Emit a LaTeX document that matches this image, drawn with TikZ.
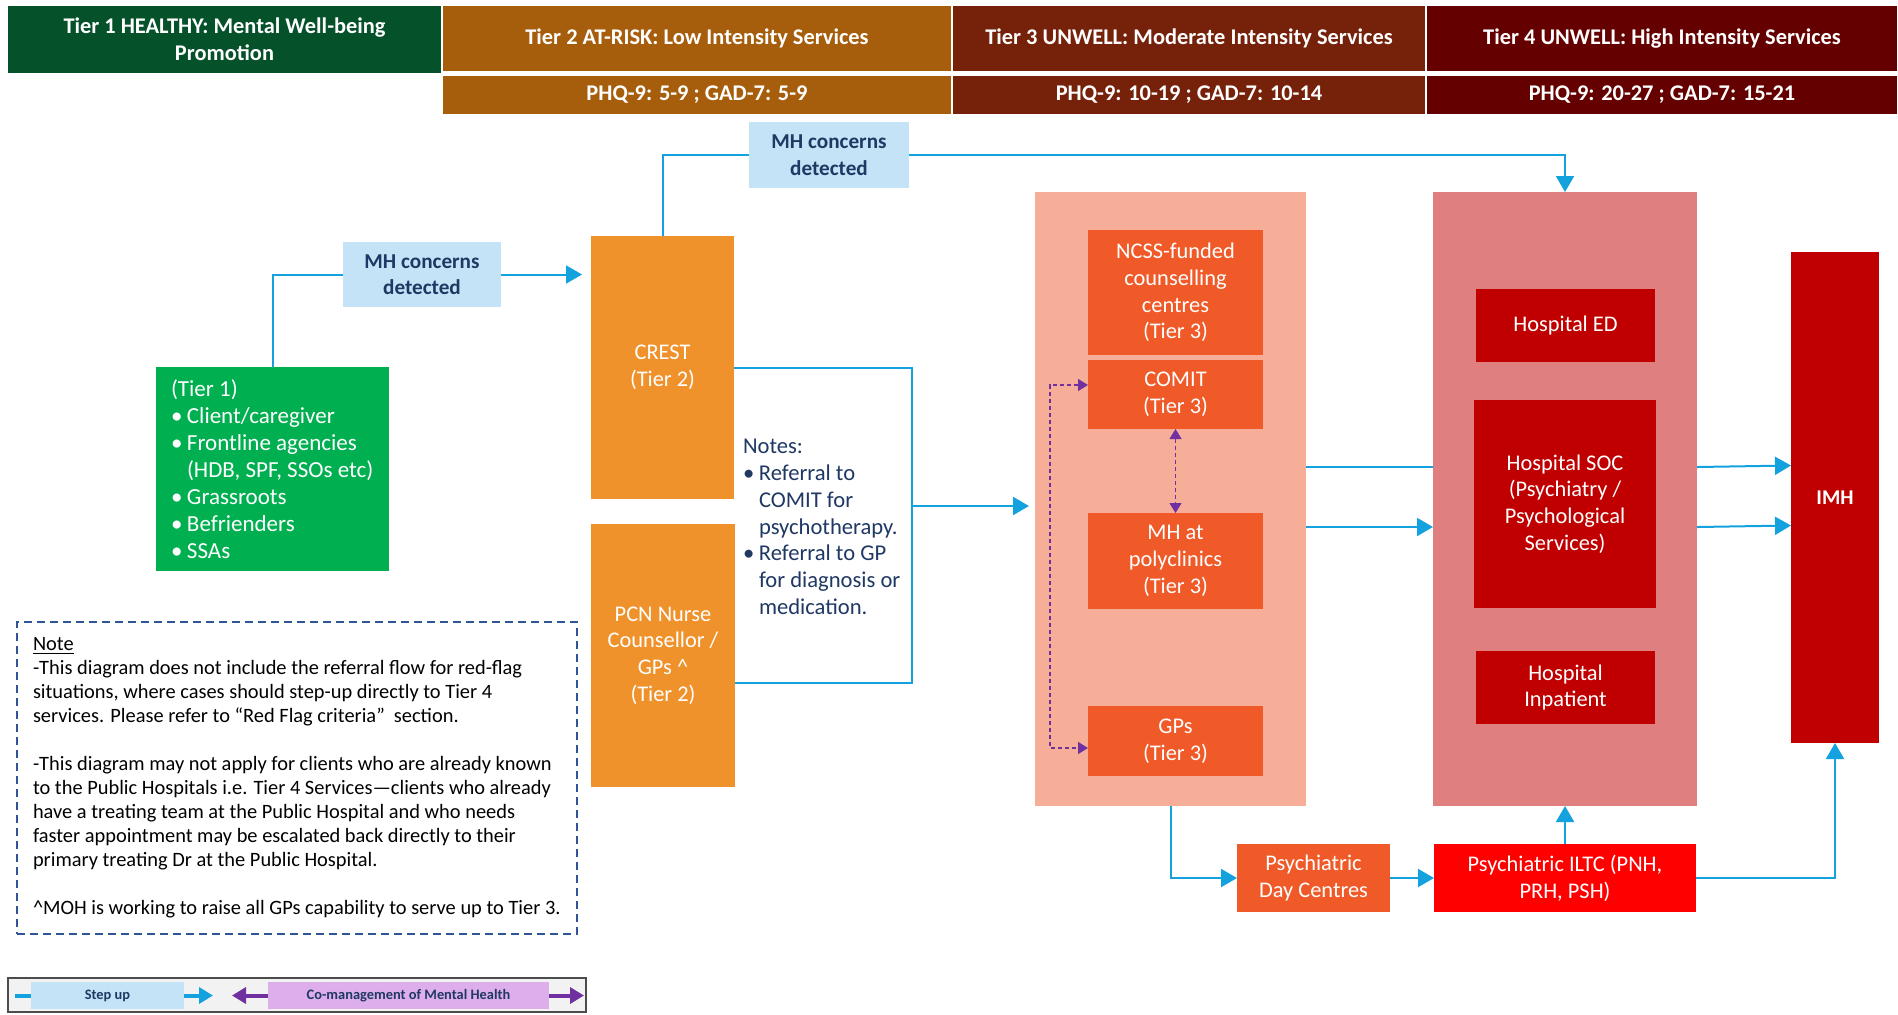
\documentclass[tikz,border=0pt]{standalone}
\usepackage{fontspec}
\setmainfont{Carlito}
\usetikzlibrary{arrows.meta}
\definecolor{hgreen}{HTML}{04512A}
\definecolor{htwo}{HTML}{A65E0C}
\definecolor{hthree}{HTML}{76220A}
\definecolor{hfour}{HTML}{650000}
\definecolor{lblue}{HTML}{C4E3F7}
\definecolor{navy}{HTML}{1F3864}
\definecolor{tgreen}{HTML}{00B050}
\definecolor{orng}{HTML}{F0922B}
\definecolor{salmonbg}{HTML}{F7AE98}
\definecolor{tthree}{HTML}{F05A28}
\definecolor{rosebg}{HTML}{DF7F7F}
\definecolor{dred}{HTML}{C00000}
\definecolor{bred}{HTML}{FF0000}
\definecolor{flowblue}{HTML}{14A2DE}
\definecolor{purp}{HTML}{7030A0}
\definecolor{lpink}{HTML}{DEAEEA}
\definecolor{dashblue}{HTML}{2F5597}
\definecolor{lgray}{HTML}{F2F2F2}
\newcommand{\bitem}[1]{\makebox[8pt][l]{\textbullet}#1}
\newcommand{\bcont}[1]{\hspace*{8pt}#1}
\begin{document}
\begin{tikzpicture}[x=0.5pt, y=-0.5pt,
  rect/.style n args={4}{at={({(#1+#3)/2},{(#2+#4)/2})}, minimum width={(#3-#1)*0.5pt}, minimum height={(#4-#2)*0.5pt}},
  box/.style={inner sep=0pt, outer sep=0pt, align=center, text=white, font=\fontsize{11.2}{13.4}\selectfont},
  hdr/.style={box, font=\bfseries\fontsize{11.2}{13.4}\selectfont},
  mhbox/.style={box, fill=lblue, text=navy, font=\bfseries\fontsize{10.6}{13.3}\selectfont},
  flow/.style={draw=flowblue, line width=1pt},
  arr/.style={flow, -{Triangle[length=8pt,width=9pt]}},
  pdash/.style={draw=purp, line width=0.6pt, dash pattern=on 2pt off 1.5pt, {Triangle[length=5pt,width=6pt]}-{Triangle[length=5pt,width=6pt]}},
  legtext/.style={box, text=navy, font=\bfseries\fontsize{7.2}{8.5}\selectfont},
]
\useasboundingbox (0,0) rectangle (1898,1014);
\fill[white] (0,0) rectangle (1898,1014);

% headers
\node[hdr, fill=hgreen, rect={8}{6}{441}{73}] (h1) {Tier 1 HEALTHY: Mental Well-being\\Promotion};
\node[hdr, fill=htwo, rect={443}{6}{951}{71}] (h2) {Tier 2 AT-RISK: Low Intensity Services};
\node[hdr, fill=hthree, rect={953}{6}{1425}{71}] (h3) {Tier 3 UNWELL: Moderate Intensity Services};
\node[hdr, fill=hfour, rect={1427}{6}{1897}{71}] (h4) {Tier 4 UNWELL: High Intensity Services};
\node[hdr, fill=htwo, rect={443}{76}{951}{114}] (s2) {PHQ-9: 5-9 ; GAD-7: 5-9};
\node[hdr, fill=hthree, rect={953}{76}{1425}{114}] (s3) {PHQ-9: 10-19 ; GAD-7: 10-14};
\node[hdr, fill=hfour, rect={1427}{76}{1897}{114}] (s4) {PHQ-9: 20-27 ; GAD-7: 15-21};

% tier 1 and 2
\node[mhbox, rect={749}{122}{909}{188}] (mh2) {MH concerns\\detected};
\node[mhbox, rect={343}{242}{501}{307}] (mh1) {MH concerns\\detected};
\node[box, fill=tgreen, rect={156}{367}{389}{571}] (tier1) {};
\node[box, anchor=west, align=left, font=\fontsize{11.5}{13.5}\selectfont, at={(171,469)}] (tier1txt) {(Tier 1)\\\bitem{Client/caregiver}\\\bitem{Frontline agencies}\\\bcont{(HDB, SPF, SSOs etc)}\\\bitem{Grassroots}\\\bitem{Befrienders}\\\bitem{SSAs}};
\node[box, fill=orng, rect={591}{236}{734}{499}] (crest) {CREST\\(Tier 2)};
\node[box, fill=orng, rect={591}{524}{735}{787}] (pcn) {PCN Nurse\\Counsellor /\\GPs \textasciicircum\\(Tier 2)};
\node[box, text=navy, anchor=west, align=left, font=\fontsize{11.3}{13.4}\selectfont, at={(743,527)}] (notes) {Notes:\\\bitem{Referral to}\\\bcont{COMIT for}\\\bcont{psychotherapy.}\\\bitem{Referral to GP}\\\bcont{for diagnosis or}\\\bcont{medication.}};

% tier 3
\node[box, fill=salmonbg, rect={1035}{192}{1306}{806}] (t3bg) {};
\node[box, fill=tthree, rect={1088}{230}{1263}{355}] (ncss) {NCSS-funded\\counselling\\centres\\(Tier 3)};
\node[box, fill=tthree, rect={1088}{360}{1263}{429}] (comit) {COMIT\\(Tier 3)};
\node[box, fill=tthree, rect={1088}{513}{1263}{609}] (mhpoly) {MH at\\polyclinics\\(Tier 3)};
\node[box, fill=tthree, rect={1088}{706}{1263}{776}] (gps) {GPs\\(Tier 3)};

% tier 4
\node[box, fill=rosebg, rect={1433}{192}{1697}{806}] (t4bg) {};
\node[box, fill=dred, rect={1476}{289}{1655}{362}] (hed) {Hospital ED};
\node[box, fill=dred, rect={1474}{400}{1656}{608}] (hsoc) {Hospital SOC\\(Psychiatry /\\Psychological\\Services)};
\node[box, fill=dred, rect={1476}{651}{1655}{724}] (hinp) {Hospital\\Inpatient};
\node[box, fill=dred, font=\bfseries\fontsize{10.5}{13.3}\selectfont, rect={1791}{252}{1879}{743}] (imh) {IMH};
\node[box, fill=tthree, rect={1237}{844}{1390}{912}] (pdc) {Psychiatric\\Day Centres};
\node[box, fill=bred, rect={1434}{844}{1696}{912}] (iltc) {Psychiatric ILTC (PNH,\\PRH, PSH)};

% note box
\node[box, draw=dashblue, line width=0.7pt, dash pattern=on 4pt off 2.5pt, rect={17}{622}{577}{934}] (notebox) {};
\node[box, text=black, anchor=west, align=left, font=\fontsize{10.2}{12}\selectfont, at={(33,778)}] (notetxt) {\underline{Note}\\
-This diagram does not include the referral flow for red-flag\\
situations, where cases should step-up directly to Tier 4\\
services. Please refer to “Red Flag criteria”\ \ section.\\[12pt]
-This diagram may not apply for clients who are already known\\
to the Public Hospitals i.e. Tier 4 Services—clients who already\\
have a treating team at the Public Hospital and who needs\\
faster appointment may be escalated back directly to their\\
primary treating Dr at the Public Hospital.\\[12pt]
\textasciicircum MOH is working to raise all GPs capability to serve up to Tier 3.};

% connectors
\draw[flow] (tier1.north) |- (mh1.west);
\draw[arr, shorten >=4.5pt] (mh1.east) -- (crest.west |- mh1.east);
\draw[flow] (crest.north) |- (mh2.west);
\draw[arr] (mh2.east) -| (t4bg.north);
\coordinate (jx) at (912,506);
\draw[flow] (crest.east) -| (jx);
\draw[flow] ([yshift=-13.75pt]pcn.east) -| (jx);
\draw[arr, shorten >=3pt] (jx) -- (t3bg.west |- jx);
\draw[flow] ([yshift=16pt]t3bg.east) -- ([yshift=16pt]t4bg.west);
\draw[arr] ([yshift=-14pt]t3bg.east) -- ([yshift=-14pt]t4bg.west);
\draw[arr] ([yshift=16pt]t4bg.east) -- ([yshift=16pt]imh.west);
\draw[arr] ([yshift=-14pt]t4bg.east) -- ([yshift=-14pt]imh.west);
\draw[arr] (t3bg.south) |- (pdc.west);
\draw[arr] (pdc.east) -- (iltc.west);
\draw[arr] (iltc.north) -- (t4bg.south);
\draw[arr] (iltc.east) -| (imh.south);
\draw[pdash] (comit.south) -- (mhpoly.north);
\draw[pdash] ([yshift=4.75pt]comit.west) -- ++(-19pt,0pt) |- ([yshift=-3.5pt]gps.west);

% legend
\node[box, fill=lgray, draw=black!70, line width=0.8pt, rect={8}{978}{586}{1012}] (legend) {};
\node[legtext, fill=lblue, rect={31}{982}{184}{1009}] (lstep) {Step up};
\node[legtext, fill=lpink, rect={268}{982}{549}{1009}] (lcm) {Co-management of Mental Health};
\coordinate (lsa) at (15,995.5);
\coordinate (lsb) at (213,995.5);
\coordinate (lpa) at (232,995.5);
\coordinate (lpb) at (584,995.5);
\draw[draw=flowblue, line width=2pt] (lsa) -- (lstep.west);
\draw[draw=flowblue, line width=2pt, -{Triangle[length=7pt,width=8pt]}] (lstep.east) -- (lsb);
\draw[draw=purp, line width=2pt, -{Triangle[length=7pt,width=8pt]}] (lcm.west) -- (lpa);
\draw[draw=purp, line width=2pt, -{Triangle[length=7pt,width=8pt]}] (lcm.east) -- (lpb);
\end{tikzpicture}
\end{document}
